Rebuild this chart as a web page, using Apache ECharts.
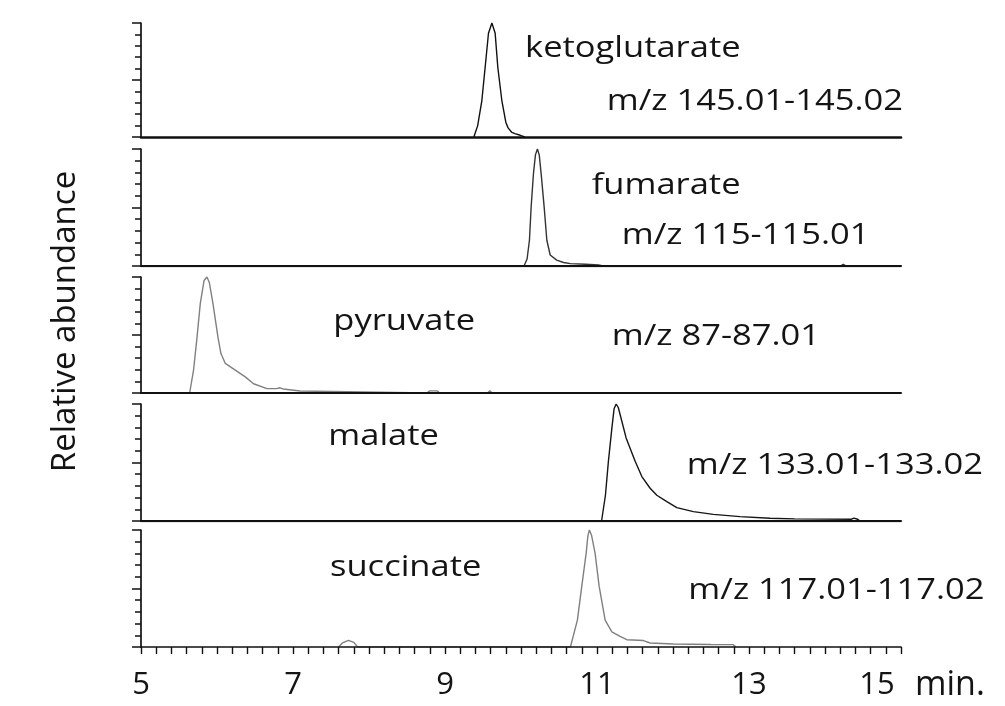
<!DOCTYPE html>
<html><head><meta charset="utf-8">
<script src="https://cdn.jsdelivr.net/npm/echarts@6/dist/echarts.min.js"></script>
<style>html,body{margin:0;padding:0;background:#fff}#c{width:1005px;height:706px}</style>
</head><body><div id="c"></div>
<script>
// ---- data ----
const xTickLabels = [5, 7, 9, 11, 13, 15];
const compoundNames = ['ketoglutarate', 'fumarate', 'pyruvate', 'malate', 'succinate'];
const mzRanges = ['m/z 145.01-145.02', 'm/z 115-115.01', 'm/z 87-87.01', 'm/z 133.01-133.02', 'm/z 117.01-117.02'];
const yAxisTitle = 'Relative abundance';
const xUnit = 'min.';

const ketoTime  = [9.38, 9.43, 9.485, 9.528, 9.572, 9.617, 9.66, 9.695, 9.748, 9.80, 9.83, 9.88, 9.92, 9.99, 10.05];
const ketoAbund = [0, 10, 32, 61, 91, 100, 91, 61, 32, 13, 8, 4, 3, 1.5, 0];

const fumTime  = [10.04, 10.08, 10.111, 10.134, 10.164, 10.19, 10.216, 10.24, 10.265, 10.304, 10.34, 10.384, 10.47, 10.56, 10.65, 10.85, 11.02, 11.08, 14.2, 14.24, 14.28];
const fumAbund = [0, 6, 22, 51, 79, 95, 100, 95, 79, 51, 22, 9.4, 5, 3, 2, 1.5, 1, 0, 0, 1.5, 0];

const pyrTime  = [5.64, 5.692, 5.737, 5.78, 5.83, 5.868, 5.90, 5.947, 6.013, 6.052, 6.109, 6.24, 6.372, 6.481, 6.657, 6.78, 6.83, 6.87, 7.095, 7.12, 8.76, 8.8, 8.9, 8.93, 9.56, 9.59, 9.62];
const pyrAbund = [0, 20, 48, 77, 97, 100, 95, 77, 48, 34, 25.5, 19.7, 13.9, 8, 3.8, 3.8, 4.5, 3.5, 1.7, 0, 0, 1.8, 1.8, 0, 0, 2, 0];

const malTime  = [11.06, 11.111, 11.15, 11.195, 11.225, 11.252, 11.28, 11.304, 11.383, 11.502, 11.59, 11.699, 11.787, 11.919, 12.05, 12.268, 12.531, 12.882, 13.277, 13.6, 14.0, 14.35, 14.38, 14.43, 14.46];
const malAbund = [0, 22, 51, 79, 96, 100, 97, 91, 71, 51, 38, 28, 22, 16.5, 11.4, 8, 5.7, 3.7, 2.3, 1.8, 1.6, 1.5, 2.5, 1.5, 0];

const sucTime  = [7.6, 7.65, 7.73, 7.8, 7.85, 10.65, 10.742, 10.80, 10.857, 10.88, 10.90, 10.93, 10.975, 11.028, 11.107, 11.195, 11.304, 11.392, 11.611, 11.699, 12.005, 12.5, 12.79, 12.83];
const sucAbund = [0, 3.5, 5.6, 4, 0, 0, 23, 52, 80, 95, 100, 95, 80, 52, 23, 13, 9, 6.2, 5.5, 3.4, 2.6, 2.2, 2, 0];

// ---- layout / style ----
const times = [ketoTime, fumTime, pyrTime, malTime, sucTime];
const abunds = [ketoAbund, fumAbund, pyrAbund, malAbund, sucAbund];
const traceColors = ['#111', '#333', '#808080', '#151515', '#808080'];
const gridTops = [23, 149, 277, 404, 530];
const gridHeights = [114, 117, 116, 117, 117];
const baseWidths = [2.6, 2, 2, 2, 1.6];
const FONT = 'Open Sans';
const TXT = '#141414';

const grids = [], xAxes = [], yAxes = [], series = [];
for (let i = 0; i < 5; i++) {
  grids.push({ left: 141, width: 760, top: gridTops[i], height: gridHeights[i] });
  const last = i === 4;
  xAxes.push({
    type: 'value', gridIndex: i, min: 5, max: 15, interval: 2, z: 5,
    splitLine: { show: false },
    axisLine: { show: true, onZero: false, lineStyle: { color: '#111', width: baseWidths[i] } },
    axisTick: { show: last, length: 7, lineStyle: { color: '#111', width: 1.4 } },
    minorTick: { show: last, splitNumber: 10, length: 7, lineStyle: { color: '#111', width: 1.4 } },
    axisLabel: last ? {
      show: true, margin: 23, fontSize: 31, fontFamily: FONT, color: TXT, fontWeight: 500,
      formatter: v => v === 15 ? '{e|15}' : String(v),
      rich: { e: { fontSize: 31, fontFamily: FONT, color: TXT, fontWeight: 500, padding: [0, 48, 0, 0] } }
    } : { show: false },
    name: last ? xUnit : '', nameLocation: 'end', nameGap: 14,
    nameTextStyle: { fontSize: 34, fontFamily: FONT, color: TXT, fontWeight: 500, verticalAlign: 'top', padding: [21, 0, 0, 0] }
  });
  yAxes.push({
    type: 'value', gridIndex: i, min: 0, max: 100, interval: 50,
    splitLine: { show: false },
    axisLine: { show: true, lineStyle: { color: '#111', width: 1.7 } },
    axisTick: { show: true, length: 9, lineStyle: { color: '#111', width: 1.5 } },
    minorTick: { show: true, splitNumber: 5, length: 6, lineStyle: { color: '#111', width: 1.5 } },
    axisLabel: { show: false }
  });
  series.push({
    type: 'line', xAxisIndex: i, yAxisIndex: i, showSymbol: false, silent: true, z: 2,
    lineStyle: { color: traceColors[i], width: 1.4 },
    data: times[i].map((t, k) => [t, abunds[i][k]])
  });
}
// faint top borders above panels 2 and 4
[1, 3].forEach(g => {
  xAxes.push({
    type: 'value', gridIndex: g, min: 5, max: 15, position: 'top', offset: 9,
    axisLine: { show: true, lineStyle: { color: '#9a9a9a', width: 1.4 } },
    axisTick: { show: false }, axisLabel: { show: false }, splitLine: { show: false }
  });
});

const labelPos = [
  [525, 48.4, 606.7, 101.7],
  [591.7, 185.7, 621.7, 235],
  [333.3, 321.7, 611.7, 336.7],
  [328.3, 436.7, 686.7, 465],
  [330, 567.7, 688.3, 590]
];
const graphic = [];
for (let i = 0; i < 5; i++) {
  const p = labelPos[i];
  graphic.push({ type: 'text', x: p[0], y: p[1], scaleX: 1.15,
    style: { text: compoundNames[i], fontSize: 30, fontFamily: FONT, fontWeight: 500, fill: TXT, align: 'left', verticalAlign: 'middle' } });
  graphic.push({ type: 'text', x: p[2], y: p[3], scaleX: 1.15,
    style: { text: mzRanges[i], fontSize: 30, fontFamily: FONT, fontWeight: 500, fill: TXT, align: 'left', verticalAlign: 'middle' } });
}
graphic.push({ type: 'text', x: 65.5, y: 321.5, rotation: Math.PI / 2,
  style: { text: yAxisTitle, fontSize: 33, fontFamily: FONT, fontWeight: 500, fill: TXT, align: 'center', verticalAlign: 'middle' } });

const chart = echarts.init(document.getElementById('c'), null, { renderer: 'canvas' });
chart.setOption({
  animation: false,
  backgroundColor: '#fff',
  grid: grids, xAxis: xAxes, yAxis: yAxes, series: series, graphic: graphic
});
</script></body></html>
